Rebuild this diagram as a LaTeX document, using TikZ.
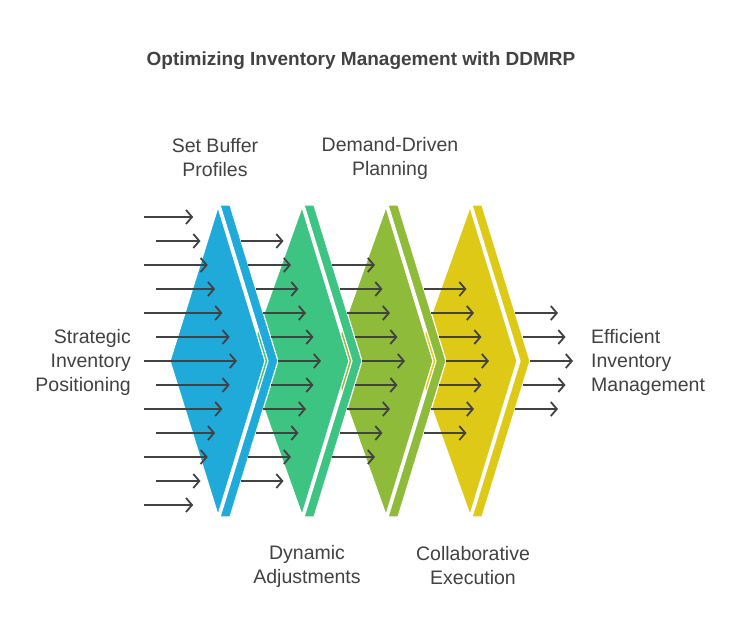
\documentclass[tikz,border=0pt]{standalone}
\usepackage{fontspec}
\setmainfont{Liberation Sans}
\usetikzlibrary{arrows.meta}
\definecolor{cblue}{RGB}{32,170,218}
\definecolor{cgreen}{RGB}{61,196,130}
\definecolor{colive}{RGB}{143,187,58}
\definecolor{cyellow}{RGB}{222,202,22}
\definecolor{ink}{RGB}{66,66,66}
\begin{document}
\begin{tikzpicture}[x=1pt,y=-1pt,
  arr/.style={draw=ink, line width=1.8pt, -{Straight Barb[length=6pt,width=14pt]}},
  lbl/.style={text=ink, font=\fontsize{19.5}{24}\selectfont, inner sep=0pt},
  stagefill/.style={draw=white, line width=1.2pt, line join=miter}]
\useasboundingbox (0,0) rectangle (746,638);
\fill[white] (0,0) rectangle (746,638);
% stages (drawn right to left so earlier ones overlap later ones)
\foreach \T/\L/\col in {470/55/cyellow, 386/55/colive, 302/55/cgreen, 218/48/cblue}{
  \fill[\col, stagefill] (\T,207) -- (\T-\L,361) -- (\T,515) -- (\T+47,361) -- cycle;
  \fill[\col, stagefill] (\T+2,205) -- (\T+12,205) -- (\T+60,361) -- (\T+12,517) -- (\T+2,517) -- (\T+50,361) -- cycle;
}
% column 1 arrows
\foreach \k in {-6,...,6}{
  \pgfmathsetmacro\a{abs(\k)}
  \pgfmathsetmacro\s{mod(\a,2)==1 ? 156 : 144}
  \pgfmathsetmacro\e{237-7.3*\a}
  \coordinate (s1\k) at (\s,361+24*\k);
  \coordinate (e1\k) at (\e,361+24*\k);
  \draw[arr] (s1\k) -- (e1\k);
}
% columns 2-5
\foreach \c/\n in {0/5,1/4,2/3,3/2}{
  \foreach \k in {-\n,...,\n}{
    \pgfmathsetmacro\a{abs(\k)}
    \pgfmathsetmacro\s{278+84*\c-7.5*\a}
    \coordinate (sa) at (\s,361+24*\k);
    \coordinate (ea) at (\s+43,361+24*\k);
    \draw[arr] (sa) -- (ea);
  }
}
% texts
\node[lbl, font=\bfseries\fontsize{19}{22}\selectfont] (title) at (361,61) {Optimizing Inventory Management with DDMRP};
\node[lbl, align=center] (sbp) at (215,158) {Set Buffer\\Profiles};
\node[lbl, align=center] (ddp) at (390,158) {Demand-Driven\\Planning};
\node[lbl, align=center] (dya) at (307,566) {Dynamic\\Adjustments};
\node[lbl, align=center] (cex) at (473,566) {Collaborative\\Execution};
\node[lbl, align=right, anchor=east] (sip) at (131,362) {Strategic\\Inventory\\Positioning};
\node[lbl, align=left, anchor=west] (eim) at (591,362) {Efficient\\Inventory\\Management};
\end{tikzpicture}
\end{document}
